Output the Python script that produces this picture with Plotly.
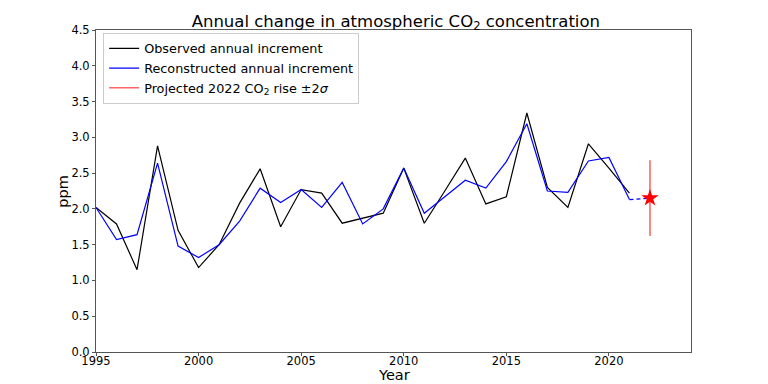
import plotly.graph_objects as go

# data
years = list(range(1995, 2022))
observed = [2.02, 1.79, 1.15, 2.88, 1.70, 1.18, 1.50, 2.08, 2.56, 1.75,
            2.27, 2.22, 1.80, 1.87, 1.94, 2.57, 1.80, 2.25, 2.71, 2.07,
            2.17, 3.34, 2.30, 2.02, 2.91, 2.57, 2.22]
reconstructed = [2.02, 1.57, 1.64, 2.64, 1.48, 1.32, 1.50, 1.83, 2.29, 2.09,
                 2.27, 2.02, 2.37, 1.79, 2.00, 2.57, 1.94, 2.17, 2.40, 2.29,
                 2.66, 3.19, 2.25, 2.23, 2.67, 2.72, 2.13]
proj_year = 2022
proj_value = 2.15
proj_2sigma = 0.53

FONT = "DejaVu Sans"

fig = go.Figure()
fig.add_trace(go.Scatter(x=years, y=observed, mode="lines",
                         line=dict(color="black", width=1.2),
                         name="Observed annual increment"))
fig.add_trace(go.Scatter(x=years, y=reconstructed, mode="lines",
                         line=dict(color="blue", width=1.2),
                         name="Reconstructed annual increment"))
# dashed link from last reconstructed value to projection
fig.add_trace(go.Scatter(x=[years[-1], proj_year], y=[reconstructed[-1], proj_value],
                         mode="lines", line=dict(color="blue", width=1.2, dash="4px,3px"),
                         showlegend=False))
fig.add_trace(go.Scatter(x=[proj_year, proj_year],
                         y=[proj_value - proj_2sigma, proj_value + proj_2sigma],
                         mode="lines", line=dict(color="rgba(255,0,0,0.6)", width=1.6),
                         name="Projected 2022 CO<sub>2</sub> rise ±2<i>σ</i>"))
fig.add_trace(go.Scatter(x=[proj_year], y=[proj_value], mode="markers",
                         marker=dict(symbol="star", color="red", size=13, line=dict(width=0)),
                         showlegend=False))

axis_common = dict(showline=True, linecolor="#555555", linewidth=1, mirror=True,
                   ticks="outside", ticklen=3, tickcolor="#555555", showgrid=False,
                   zeroline=False, automargin=False,
                   tickfont=dict(size=11.5, color="black"))

# the page body adds an 8px offset, margins compensate for it
fig.update_layout(
    width=768, height=384,
    margin=dict(l=88, r=85, t=22, b=40),
    paper_bgcolor="white", plot_bgcolor="white",
    font=dict(family=FONT, color="black"),
    title=dict(text="Annual change in atmospheric CO<sub>2</sub> concentration",
               x=0.505, xanchor="center", y=0.966, yanchor="middle",
               font=dict(size=16.5), automargin=False),
    xaxis=dict(range=[1995, 2024], tickvals=list(range(1995, 2021, 5)),
               ticklabelstandoff=-5, **axis_common),
    yaxis=dict(range=[0, 4.5], dtick=0.5, tickformat=".1f", **axis_common),
    legend=dict(x=0.012, y=0.992, xanchor="left", yanchor="top",
                bgcolor="rgba(255,255,255,0.8)", bordercolor="#cccccc", borderwidth=1,
                font=dict(size=12.8), tracegroupgap=0, itemwidth=30),
)

# axis titles placed as annotations for exact positioning
fig.add_annotation(text="Year", xref="paper", yref="paper", x=0.5, y=-0.071,
                   xanchor="center", yanchor="middle", showarrow=False,
                   font=dict(size=14.5))
fig.add_annotation(text="ppm", xref="paper", yref="paper", x=-0.056, y=0.5,
                   xanchor="center", yanchor="middle", textangle=-90, showarrow=False,
                   font=dict(size=14.5))

fig.write_html("out.html")
